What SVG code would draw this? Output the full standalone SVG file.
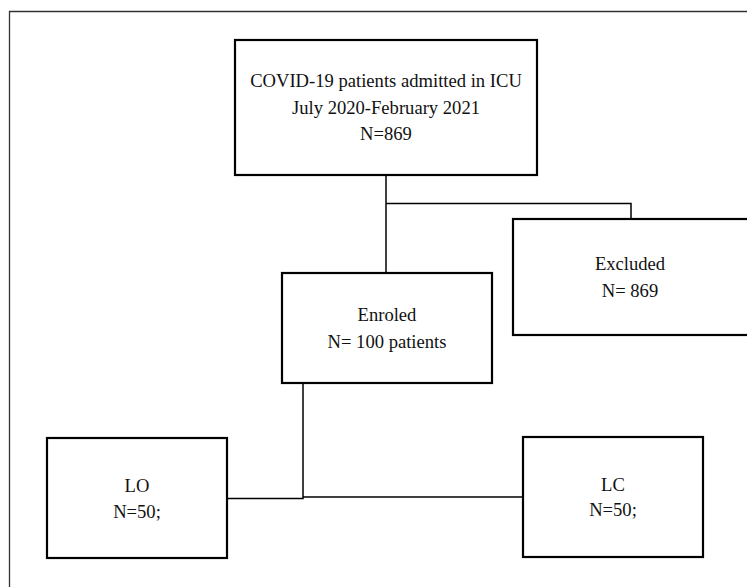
<svg xmlns="http://www.w3.org/2000/svg" width="747" height="587" viewBox="0 0 747 587">
<style>
.box{fill:#fff;stroke:#000;stroke-width:2.2}
.t{font-family:"Liberation Serif","Times New Roman",serif;font-size:18.6px;fill:#111;text-anchor:middle}
.c{fill:none;stroke:#000;stroke-width:1.5}
</style>
<rect width="747" height="587" fill="#fff"/>
<path d="M9.5,590 V11.5 H750" fill="none" stroke="#333" stroke-width="1.3"/>
<g id="connectors">
<path class="c" d="M386,175 V273"/>
<path class="c" d="M386,203.5 H631 V219"/>
<path class="c" d="M303,383 V498.5 H227"/>
<path class="c" d="M303,497 H523"/>
</g>
<g id="admitted">
<rect class="box" x="235" y="40" width="302" height="135"/>
<text class="t" x="386" y="87">COVID-19 patients admitted in ICU</text>
<text class="t" x="386" y="114">July 2020-February 2021</text>
<text class="t" x="386" y="140">N=869</text>
</g>
<g id="excluded">
<rect class="box" x="513" y="219" width="250" height="116"/>
<text class="t" x="630" y="270">Excluded</text>
<text class="t" x="630" y="297">N= 869</text>
</g>
<g id="enroled">
<rect class="box" x="282" y="273" width="210" height="110"/>
<text class="t" x="387" y="321">Enroled</text>
<text class="t" x="387" y="348">N= 100 patients</text>
</g>
<g id="lo">
<rect class="box" x="47" y="438" width="180" height="120"/>
<text class="t" x="137" y="492">LO</text>
<text class="t" x="137" y="518">N=50;</text>
</g>
<g id="lc">
<rect class="box" x="523" y="437" width="180" height="120"/>
<text class="t" x="613" y="491">LC</text>
<text class="t" x="613" y="516">N=50;</text>
</g>
</svg>
